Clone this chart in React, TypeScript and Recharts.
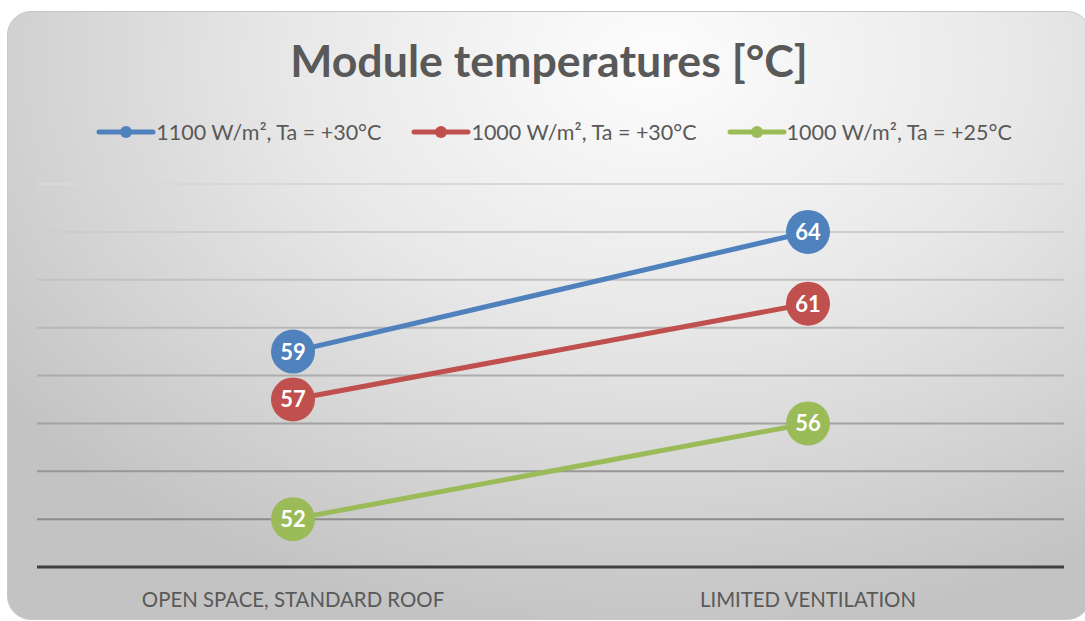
import React from 'react';
import { LineChart, Line, XAxis, YAxis, CartesianGrid } from 'recharts';

const categories = ['OPEN SPACE, STANDARD ROOF', 'LIMITED VENTILATION'];
const seriesNames = ['1100 W/m², Ta = +30°C', '1000 W/m², Ta = +30°C', '1000 W/m², Ta = +25°C'];
const hot = [59, 64];
const warm = [57, 61];
const mild = [52, 56];
const yTicks = [50, 52, 54, 56, 58, 60, 62, 64, 66];

const colors = ['#4f81bd', '#c0504d', '#9bbb59'];
const keys = ['s0', 's1', 's2'];
const FONT = 'Lato, "Open Sans", sans-serif';

const data = categories.map((c, i) => ({ name: c, s0: hot[i], s1: warm[i], s2: mild[i] }));

const makeDot = (color) => (props) => {
    const { cx, cy, value, index } = props;
    if (cx == null || cy == null) return null;
    return (
        <g key={`dot-${index}`}>
            <circle cx={cx} cy={cy} r={22} fill={color} />
            <text
                x={cx}
                y={cy}
                dy={8}
                textAnchor="middle"
                fill="#ffffff"
                fontSize={22}
                fontWeight={700}
                fontFamily={FONT}
            >
                {value}
            </text>
        </g>
    );
};

const CatTick = ({ x, y, payload }) => (
    <text x={x} y={y} dy={38} textAnchor="middle" fill="#595959" fontSize={20.4} fontFamily={FONT}>
        {payload.value}
    </text>
);

export default function App() {
    return (
        <div style={{ position: 'absolute', left: 0, top: 0, width: 1085, height: 621, overflow: 'hidden', background: '#fff' }}>
            <div
                style={{
                    position: 'absolute',
                    left: 7,
                    top: 11,
                    width: 1082,
                    height: 607,
                    borderRadius: 24,
                    border: '1px solid #c8c8c8',
                    background: 'radial-gradient(ellipse 75% 95% at 60% 8%, #fdfdfd 0%, #e8e8e8 45%, #d4d4d4 75%, #c3c3c3 100%)',
                }}
            />
            <div
                style={{
                    position: 'absolute',
                    left: 0,
                    top: 32,
                    width: 1098,
                    textAlign: 'center',
                    fontFamily: FONT,
                    fontWeight: 700,
                    fontSize: 44.7,
                    lineHeight: '56px',
                    color: '#595959',
                }}
            >
                Module temperatures [°C]
            </div>
            <div
                style={{
                    position: 'absolute',
                    left: 0,
                    top: 118,
                    width: 1108,
                    display: 'flex',
                    justifyContent: 'center',
                    gap: 30,
                    fontFamily: FONT,
                    fontSize: 21.5,
                    color: '#595959',
                }}
            >
                {seriesNames.map((n, i) => (
                    <div key={n} style={{ display: 'flex', alignItems: 'center' }}>
                        <svg width={60} height={28}>
                            <line x1={3} y1={14} x2={57} y2={14} stroke={colors[i]} strokeWidth={5} strokeLinecap="round" />
                            <circle cx={30} cy={14} r={6} fill={colors[i]} />
                        </svg>
                        <span style={{ marginLeft: 0 }}>{n}</span>
                    </div>
                ))}
            </div>
            <div style={{ position: 'absolute', left: 0, top: 0 }}>
                <LineChart width={1085} height={621} data={data} margin={{ top: 184, right: 21, left: 37, bottom: 14 }}>
                    <defs>
                        <linearGradient id="gridGrad" gradientUnits="userSpaceOnUse" x1={0} y1={184} x2={0} y2={520}>
                            <stop offset="0%" stopColor="#d8d8d8" />
                            <stop offset="100%" stopColor="#8c8c8c" />
                        </linearGradient>
                    </defs>
                    <CartesianGrid vertical={false} stroke="url(#gridGrad)" strokeWidth={2} />
                    <XAxis
                        dataKey="name"
                        height={40}
                        padding={{ left: 256, right: 256 }}
                        axisLine={{ stroke: '#404040', strokeWidth: 3 }}
                        tickLine={false}
                        tickSize={0}
                        tick={<CatTick />}
                        interval={0}
                    />
                    <YAxis hide width={0} domain={[50, 66]} ticks={yTicks} type="number" />
                    {keys.map((k, i) => (
                        <Line
                            key={k}
                            dataKey={k}
                            name={seriesNames[i]}
                            stroke={colors[i]}
                            strokeWidth={5}
                            dot={makeDot(colors[i])}
                            activeDot={false}
                            isAnimationActive={false}
                        />
                    ))}
                </LineChart>
            </div>
        </div>
    );
}
